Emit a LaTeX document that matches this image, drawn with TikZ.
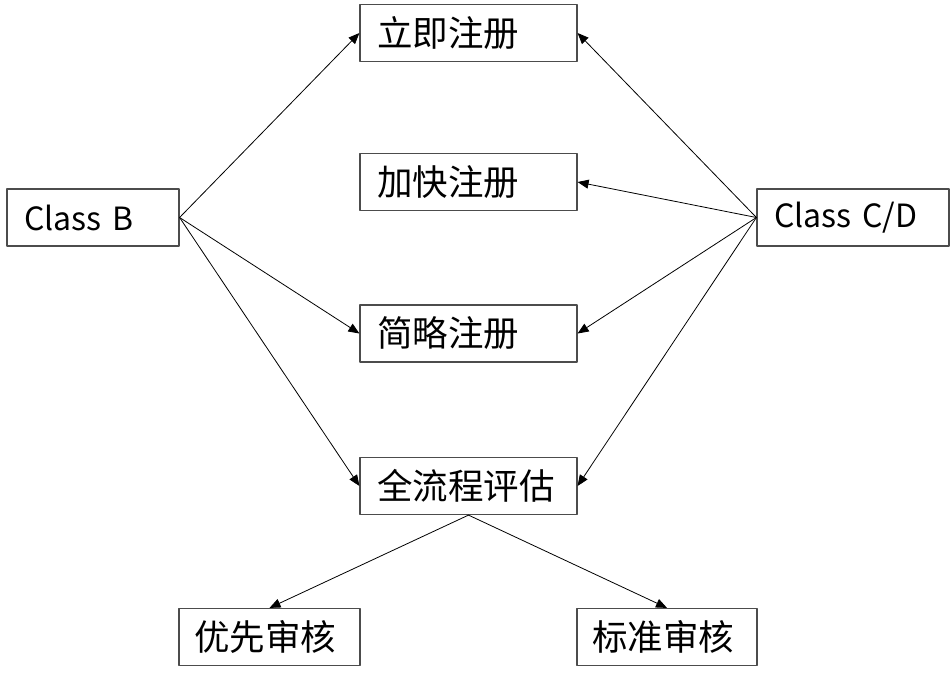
\documentclass[tikz,border=0pt]{standalone}
\usepackage{fontspec}
\newfontfamily\cjk{Noto Sans CJK SC}
\usetikzlibrary{arrows.meta}

\begin{document}
\begin{tikzpicture}[line cap=round,line join=round,>={Triangle[length=11pt,width=9pt]},
x=1pt,y=-1pt,
box/.style={draw=black!70,line width=1.2pt,minimum height=57pt,inner xsep=17pt,
inner ysep=0pt,align=left,font=\cjk\fontsize{35.5}{40}\selectfont},
latin/.style={font=\cjk\fontsize{32}{40}\selectfont},
link/.style={->,line width=0.8pt}]
\useasboundingbox (0,0) rectangle (952,681);
% Các ô ở giữa
\node[box,text width=183pt] (liji) at (468.5,33) {立即注册};
\node[box,text width=183pt] (jiakuai) at (468.5,182) {加快注册};
\node[box,text width=183pt] (jianlue) at (468.5,333.5) {简略注册};
\node[box,text width=183pt] (quan) at (468.5,486) {全流程评估};
% Hai ô hai bên
\node[box,latin,text width=138pt] (classb) at (93,217.5) {Class B};
\node[box,latin,text width=158pt] (classcd) at (853,217.5) {Class C/D};
% Hai ô dưới cùng
\node[box,text width=151pt,inner xsep=15pt] (youxian) at (269.5,637) {优先审核};
\node[box,text width=150pt,inner xsep=15pt] (biaozhun) at (667,637) {标准审核};
% Vẽ các mũi tên
\foreach \t in {liji,jianlue,quan}
\draw[link] (classb.east) -- (\t.west);
\foreach \t in {liji,jiakuai,jianlue,quan}
\draw[link] (classcd.west) -- (\t.east);
\draw[link] (quan.south) -- (youxian.north);
\draw[link] (quan.south) -- (biaozhun.north);
\end{tikzpicture}
\end{document}
